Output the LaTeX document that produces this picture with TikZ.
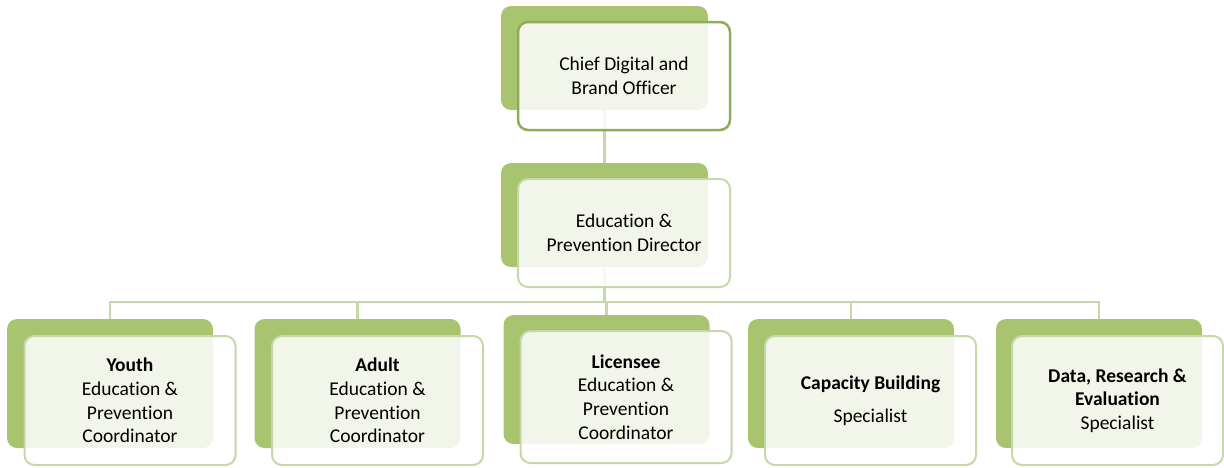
\documentclass[tikz,border=0pt]{standalone}
\usepackage{fontspec}
\setmainfont{Carlito}[Ligatures=NoCommon]
\usepackage{tikz}
\usetikzlibrary{backgrounds}
\definecolor{leafback}{HTML}{A9C46F}
\definecolor{leafline}{HTML}{C5D8A8}
\definecolor{leafdark}{HTML}{8DAE58}

\begin{document}
\begin{tikzpicture}
    [
      x = 1pt, y = -1pt,
      backbox/.style = {fill=leafback, rounded corners=10pt, inner sep=0pt,
                        minimum width=206pt, minimum height=129pt},
      frontbox/.style = {draw=leafline, line width=2pt, fill=white, fill opacity=0.86,
                         text opacity=1, rounded corners=10pt, inner sep=0pt,
                         minimum width=211pt, minimum height=129pt, align=center,
                         font=\fontsize{19.5}{23.7}\selectfont},
      headback/.style = {backbox, minimum width=207pt, minimum height=104pt},
      headfront/.style = {frontbox, minimum width=212pt, minimum height=108pt},
      link/.style = {draw=leafline, line width=2.5pt},
    ]
    \useasboundingbox (0,0) rectangle (1224,467);

    % top two levels
    \node[headback] (cdob) at (604.5,58) {};
    \node[headfront, draw=leafdark, line width=2.5pt] (cdo) at (624,76) {Chief Digital and\\Brand Officer};
    \node[headback] (epdb) at (604.5,215) {};
    \node[headfront] (epd) at (624,233) {Education \&\\Prevention Director};

    % coordinators and specialists
    \node[backbox] (youthb) at (110,383.5) {};
    \node[frontbox] (youth) at (130,400.5) {\textbf{Youth}\\Education \&\\Prevention\\Coordinator};
    \node[backbox] (adultb) at (357.5,383.5) {};
    \node[frontbox] (adult) at (377.5,400.5) {\textbf{Adult}\\Education \&\\Prevention\\Coordinator};
    \node[backbox] (licb) at (606.5,379.5) {};
    \node[frontbox, minimum height=132pt] (lic) at (626,397) {\textbf{Licensee}\\Education \&\\Prevention\\Coordinator};
    \node[backbox] (capb) at (851,383.5) {};
    \node[frontbox] (cap) at (870.5,400.5) {\textbf{Capacity Building}\\[9pt]Specialist};
    \node[backbox] (datab) at (1099,383.5) {};
    \node[frontbox] (data) at (1117.5,400.5) {\textbf{Data, Research \&}\\\textbf{Evaluation}\\Specialist};

    \begin{scope}[on background layer]
      \draw[link] (cdob.south) -- (epdb.north);
      \draw[link] (epdb.south) -- ++(0,35) coordinate (bus);
      \foreach \kid in {youthb,adultb,licb,capb,datab}
        \draw[link] (bus) -| (\kid.north);
    \end{scope}
\end{tikzpicture}
\end{document}
